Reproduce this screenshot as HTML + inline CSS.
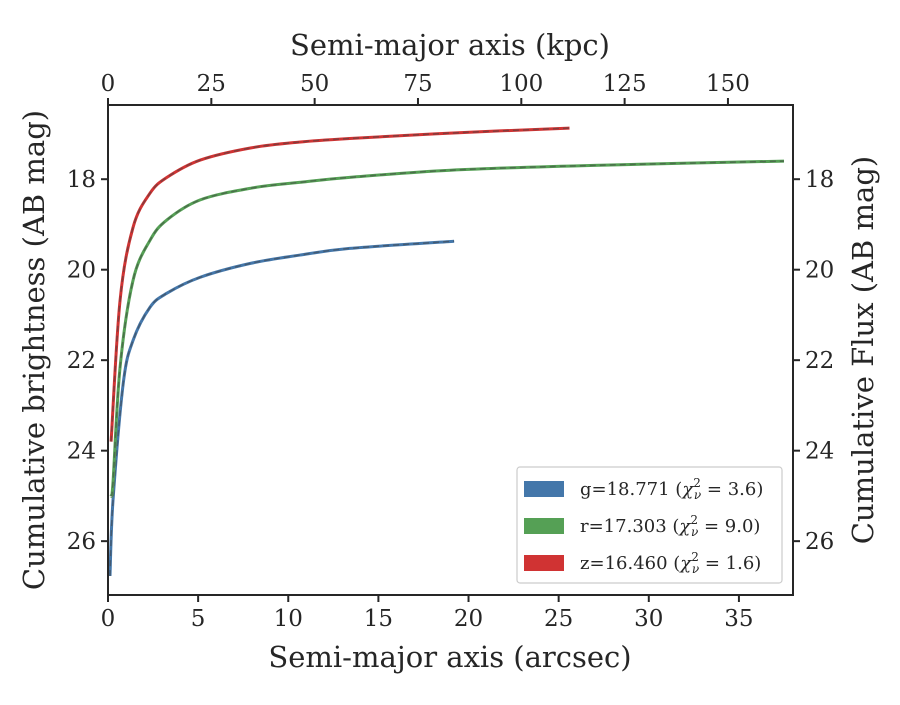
<!DOCTYPE html>
<html><head><meta charset="utf-8"><style>
body{margin:0;background:#fff}
svg text{font-family:"DejaVu Serif","Liberation Serif",serif;fill:#262626}
</style></head><body>
<svg id="chart" width="900" height="700" xmlns="http://www.w3.org/2000/svg"></svg>
<script>
const xTicks=[0,5,10,15,20,25,30,35];
const topTicks=[0,25,50,75,100,125,150];
const yTicks=[18,20,22,24,26];
const gX=[0.11,0.28,0.85,1.39,2.33,3.27,5.1,7.9,10.6,13.4,19.2];
const gY=[26.77,25.1,22.5,21.56,20.83,20.52,20.17,19.86,19.68,19.53,19.37];
const rX=[0.17,0.28,0.67,1.39,2.33,3.27,5.1,7.9,10.6,13.4,19,27.3,37.5];
const rY=[25.0,24.7,22.15,20.23,19.35,18.9,18.46,18.2,18.07,17.96,17.8,17.69,17.6];
const zX=[0.17,0.67,1.39,2.33,3.27,5.1,7.9,10.6,13.4,19,25.6];
const zY=[23.8,20.67,19.06,18.31,17.96,17.58,17.31,17.18,17.1,16.98,16.87];
const legendLabels=["g=18.771","r=17.303","z=16.460"];
const chiVals=["3.6","9.0","1.6"];
const L=108,R=793,T=105,B=595;
const xMin=0,xMax=38.0,yTop=16.36,yBot=27.19;
const xs=v=>L+(v-xMin)/(xMax-xMin)*(R-L);
const ys=v=>T+(v-yTop)/(yBot-yTop)*(B-T);
const kpcScale=v=>L+v*4.133;
const svg=document.getElementById('chart');
const NS='http://www.w3.org/2000/svg';
function el(tag,attrs,parent){const e=document.createElementNS(NS,tag);for(const k in attrs)e.setAttribute(k,attrs[k]);(parent||svg).appendChild(e);return e;}
function txt(s,attrs){const t=el('text',attrs);t.textContent=s;return t;}
function smooth(P){
  let d='M'+P[0][0].toFixed(1)+','+P[0][1].toFixed(1);
  for(let i=0;i<P.length-1;i++){
    const p0=P[i-1]||P[i],p1=P[i],p2=P[i+1],p3=P[i+2]||p2;
    const c1=[p1[0]+(p2[0]-p0[0])/6,p1[1]+(p2[1]-p0[1])/6];
    const c2=[p2[0]-(p3[0]-p1[0])/6,p2[1]-(p3[1]-p1[1])/6];
    d+='C'+c1.map(v=>v.toFixed(1)).join(',')+' '+c2.map(v=>v.toFixed(1)).join(',')+' '+p2.map(v=>v.toFixed(1)).join(',');
  }
  return d;
}
const series=[[gX,gY,'#4477aa','g'],[rX,rY,'#55a055','r'],[zX,zY,'#d03333','z']];
series.forEach(([X,Y,c,n])=>{
  const d=smooth(X.map((v,i)=>[xs(v),ys(Y[i])]));
  const p=el('path',{d:d,fill:'none',stroke:c,'stroke-width':3});
  
  
  const q=el('path',{d:d,fill:'none',stroke:'#444','stroke-opacity':0.55,'stroke-width':1.5,'stroke-dasharray':'6,4'});
  
  
});
const f=el('rect',{x:L,y:T,width:R-L,height:B-T,fill:'none',stroke:'#262626','stroke-width':2});


xTicks.forEach(v=>{const x=xs(v);el('line',{x1:x,x2:x,y1:B,y2:B+7,stroke:'#262626','stroke-width':2});
  const t=txt(v,{x:x,y:B+31,'font-size':23,'text-anchor':'middle'});});
topTicks.forEach(v=>{const x=kpcScale(v);el('line',{x1:x,x2:x,y1:T,y2:T-7,stroke:'#262626','stroke-width':2});
  const t=txt(v,{x:x,y:T-14,'font-size':23,'text-anchor':'middle'});});
yTicks.forEach(v=>{const y=ys(v);el('line',{x1:L,x2:L-7,y1:y,y2:y,stroke:'#262626','stroke-width':2});
  el('line',{x1:R,x2:R+7,y1:y,y2:y,stroke:'#262626','stroke-width':2});
  const t=txt(v,{x:L-12,y:y+8,'font-size':23,'text-anchor':'end'});
  const t2=txt(v,{x:R+12,y:y+8,'font-size':23});});
let t;
t=txt('Semi-major axis (arcsec)',{x:450,y:667,'font-size':29,'text-anchor':'middle'});
t=txt('Semi-major axis (kpc)',{x:450,y:55,'font-size':29,'text-anchor':'middle'});
t=txt('Cumulative brightness (AB mag)',{x:0,y:0,'font-size':29,'text-anchor':'middle',transform:'translate(44,350) rotate(-90)'});
t=txt('Cumulative Flux (AB mag)',{x:0,y:0,'font-size':29,'text-anchor':'middle',transform:'translate(873,350) rotate(-90)'});
const lg=el('rect',{x:517,y:467,width:265,height:116,rx:3,fill:'#fff',stroke:'#ccc','stroke-width':1.2});

series.forEach((s,i)=>{const y=481+i*37;
  const r=el('rect',{x:524,y:y,width:40,height:16,fill:s[2]});
  const tt=el('text',{x:580,y:y+14,'font-size':18});
  
  tt.innerHTML=legendLabels[i]+' (<tspan font-style="italic">χ</tspan><tspan font-size="12" dy="-8">2</tspan><tspan font-size="12" font-style="italic" dx="-7" dy="12">ν</tspan><tspan dy="-4"> = '+chiVals[i]+')</tspan>';
});
</script>
</body></html>
